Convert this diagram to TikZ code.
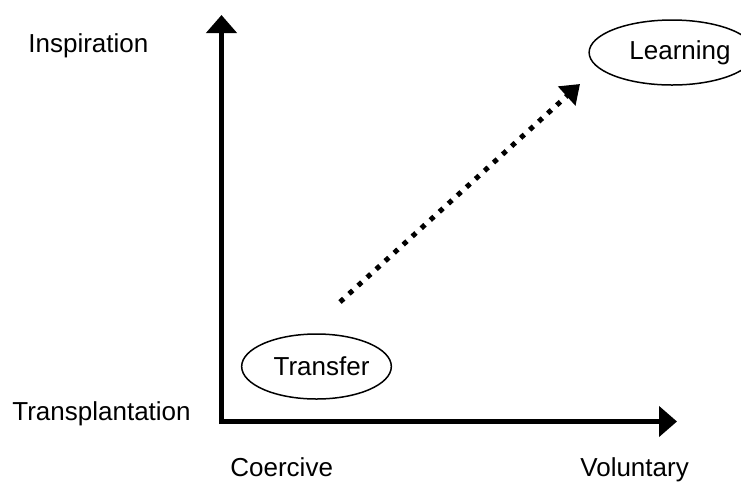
\documentclass[tikz,border=0pt]{standalone}
\usepackage{fontspec}
\setmainfont{Liberation Sans}
\usetikzlibrary{arrows.meta, shapes.geometric}

\begin{document}
\begin{tikzpicture}[x=0.5pt, y=-0.5pt,
    axis/.style={line width=2.5pt, -{Triangle[length=9pt, width=15pt]}},
    trend/.style={line width=2.5pt, dash pattern=on 2.5pt off 3.6pt, -{Triangle[length=9pt, width=12.5pt]}},
    stage/.style={draw, ellipse, line width=0.75pt, inner sep=0pt, font=\fontsize{13}{15}\selectfont},
    axlabel/.style={anchor=base west, inner sep=0pt, font=\fontsize{13}{15}\selectfont}]
  \useasboundingbox (0,0) rectangle (741,484);
  % Axes: coercive -> voluntary, transplantation -> inspiration
  \coordinate (origin) at (221.5,421.5);
  \coordinate (ytop) at (221.5,15);
  \coordinate (xend) at (677,421.5);
  \draw[axis] ([yshift=-1.25pt]origin) -- (ytop);
  \draw[axis] ([xshift=-1.25pt]origin) -- (xend);
  % Axis labels
  \node[axlabel] (insp) at (28,52) {Inspiration};
  \node[axlabel] (transp) at (12,420) {Transplantation};
  \node[axlabel] (coer) at (230,476) {Coercive};
  \node[axlabel] (vol) at (580,476) {Voluntary};
  % The two stages
  \node[stage, minimum width=73.5pt, minimum height=32.5pt] (transfer) at (316.5,366.5) {\hspace{5pt}Transfer};
  \node[stage, minimum width=67pt, minimum height=32.5pt] (learning) at (672,52.5) {\hspace{8pt}Learning};
  % Dotted shift between them
  \coordinate (dstart) at (340,302);
  \coordinate (dend) at (580,84);
  \draw[trend] (dstart) -- (dend);
\end{tikzpicture}
\end{document}
